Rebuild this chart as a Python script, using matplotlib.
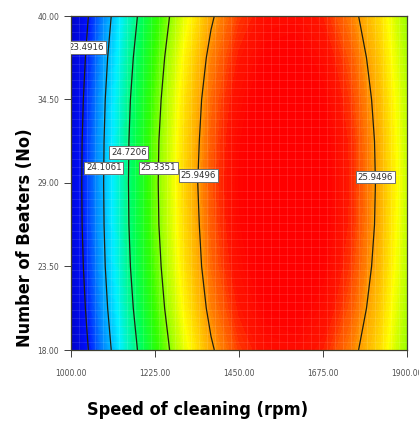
import numpy as np
import matplotlib
matplotlib.use('Agg')
import matplotlib.pyplot as plt
from matplotlib.colors import LinearSegmentedColormap, Normalize

# ---------------------------------------------------------------------------
# Data
# ---------------------------------------------------------------------------
speed = [1000, 1075, 1150, 1225, 1300, 1375, 1450, 1525, 1600, 1675, 1750, 1825, 1900]
beaters = [18.0, 20.75, 23.5, 26.25, 29.0, 31.75, 34.5, 37.25, 40.0]

# one row per beaters value (bottom to top), one column per speed value
response = [
    [22.99, 23.80, 24.50, 25.09, 25.56, 25.92, 26.17, 26.30, 26.32, 26.23, 26.02, 25.76, 25.37],
    [23.07, 23.89, 24.59, 25.17, 25.65, 26.01, 26.25, 26.39, 26.41, 26.32, 26.11, 25.82, 25.42],
    [23.13, 23.95, 24.65, 25.23, 25.71, 26.07, 26.31, 26.45, 26.47, 26.38, 26.17, 25.87, 25.46],
    [23.17, 23.98, 24.68, 25.27, 25.74, 26.10, 26.35, 26.48, 26.50, 26.41, 26.21, 25.90, 25.48],
    [23.18, 23.99, 24.69, 25.28, 25.76, 26.12, 26.36, 26.50, 26.52, 26.42, 26.22, 25.91, 25.50],
    [23.17, 23.98, 24.68, 25.27, 25.74, 26.10, 26.35, 26.48, 26.50, 26.41, 26.21, 25.90, 25.48],
    [23.13, 23.95, 24.65, 25.23, 25.71, 26.07, 26.31, 26.45, 26.47, 26.38, 26.17, 25.87, 25.46],
    [23.07, 23.89, 24.59, 25.17, 25.65, 26.01, 26.25, 26.39, 26.41, 26.32, 26.11, 25.82, 25.42],
    [22.99, 23.80, 24.50, 25.09, 25.56, 25.92, 26.17, 26.30, 26.32, 26.23, 26.02, 25.76, 25.37],
]

contour_levels = [23.4916, 24.1061, 24.7206, 25.3351, 25.9496]
label_spots = [(1056, 37.9), (1086, 30.0), (1153, 31.0), (1225, 30.0), (1327, 29.5), (1836, 29.4)]

x_ticks = [1000, 1225, 1450, 1675, 1900]
y_ticks = [18.0, 23.5, 29.0, 34.5, 40.0]

# ---------------------------------------------------------------------------
# Colour map (Design-Expert style rainbow)
# ---------------------------------------------------------------------------
vmin, vmax = 22.95, 26.55
stops = [
    (22.95, '#0000c0'),
    (23.50, '#0010ff'),
    (23.95, '#0090ff'),
    (24.35, '#00f0ff'),
    (24.85, '#00ff50'),
    (25.15, '#30ff00'),
    (25.40, '#a0ff00'),
    (25.65, '#ffff00'),
    (25.95, '#ffa000'),
    (26.12, '#ff5800'),
    (26.26, '#ff1400'),
    (26.40, '#ff0000'),
    (26.55, '#ff0000'),
]
cmap = LinearSegmentedColormap.from_list(
    'de_rainbow', [((v - vmin) / (vmax - vmin), c) for v, c in stops])
norm = Normalize(vmin, vmax)

# ---------------------------------------------------------------------------
# Plot
# ---------------------------------------------------------------------------
fig = plt.figure(figsize=(4.19, 4.23), dpi=100)
ax = fig.add_axes([71 / 419, 1 - 350 / 423, 336 / 419, 334 / 423])

X, Y = np.meshgrid(speed, beaters)
Z = np.array(response)

ax.contourf(X, Y, Z, levels=np.linspace(vmin, vmax, 150), cmap=cmap, norm=norm)

# faint cell grid like the original rendering
ax.set_xticks(np.linspace(1000, 1900, 43), minor=True)
ax.set_yticks(np.linspace(18, 40, 43), minor=True)
ax.grid(which='minor', color='white', alpha=0.12, lw=0.6)
ax.tick_params(which='minor', length=0)

cs = ax.contour(X, Y, Z, levels=contour_levels, colors='#202010', linewidths=0.9)
labels = ax.clabel(cs, fmt='%.4f', fontsize=6.2, inline=False,
                   manual=label_spots, colors='#303030')
for t in labels:
    t.set_rotation(0)
    t.set_bbox(dict(facecolor='white', edgecolor='#707070', pad=1.3, lw=0.7))

ax.set_xlim(1000, 1900)
ax.set_ylim(18, 40)
ax.set_xticks(x_ticks)
ax.set_yticks(y_ticks)
ax.set_xticklabels([f'{v:.2f}' for v in x_ticks])
ax.set_yticklabels([f'{v:.2f}' for v in y_ticks])
ax.tick_params(which='major', labelsize=5.5, labelcolor='#505050', color='#404040',
               length=5, width=0.7, direction='out')
ax.tick_params(axis='x', which='major', pad=9)
for s in ax.spines.values():
    s.set_color('#404030')
    s.set_linewidth(0.9)

fig.text(198 / 419, 1 - 410 / 423, 'Speed of cleaning (rpm)', ha='center', va='center',
         fontsize=13, fontweight='bold', fontstretch='condensed', family='DejaVu Sans')
fig.text(25 / 419, 1 - 238 / 423, 'Number of Beaters (No)', ha='center', va='center',
         rotation=90, fontsize=13, fontweight='bold', fontstretch='condensed',
         family='DejaVu Sans')

fig.savefig('out.png', dpi=100)
